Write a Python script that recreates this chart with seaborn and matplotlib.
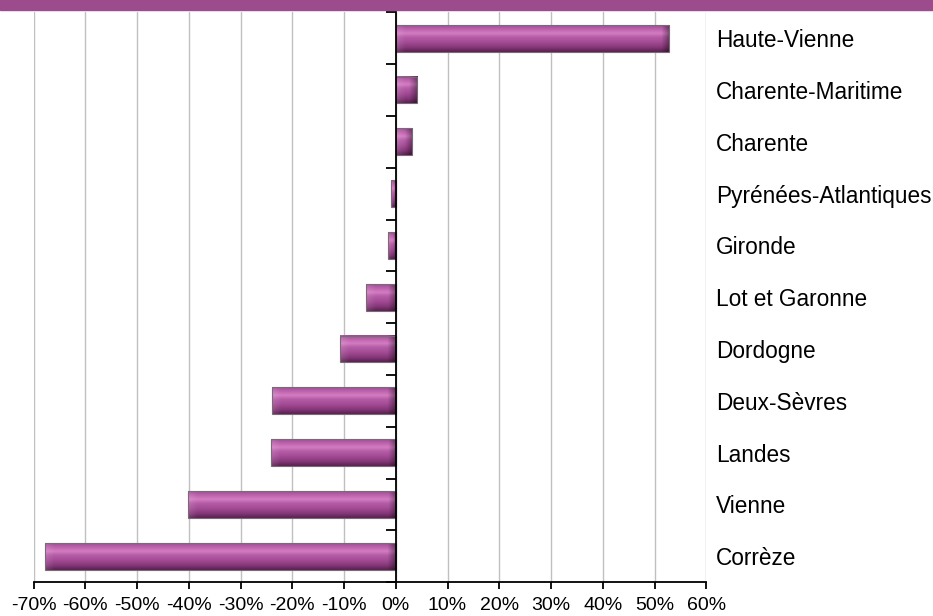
import numpy as np
import pandas as pd
import matplotlib
matplotlib.use('Agg')
import matplotlib.pyplot as plt
import matplotlib.colors as mcolors
import seaborn as sns

# Données : évolution par département (%)
departements = ['Haute-Vienne', 'Charente-Maritime', 'Charente', 'Pyrénées-Atlantiques',
                'Gironde', 'Lot et Garonne', 'Dordogne', 'Deux-Sèvres', 'Landes',
                'Vienne', 'Corrèze']
evolution = [52.8, 4.1, 3.1, -0.9, -1.5, -5.8, -10.8, -23.9, -24.2, -40.2, -67.8]
xticks = list(range(-70, 61, 10))

df = pd.DataFrame({'departement': departements, 'evolution': evolution})

sns.set_theme(style='white')
plt.rcParams['font.family'] = ['Liberation Sans', 'DejaVu Sans']

fig = plt.figure(figsize=(9.33, 6.16), dpi=100)
ax = fig.add_axes([0.036, 0.055, 0.721, 0.925])

sns.barplot(data=df, x='evolution', y='departement', orient='h', width=0.52,
            color='#a8519a', ax=ax, zorder=3)

ax.set_xlim(-70, 60)
ax.set_ylim(len(departements) - 0.5, -0.5)
ax.set_xticks(xticks)
ax.set_xticklabels([f'{t}%' for t in xticks], fontsize=14)
ax.set_xlabel('')
ax.set_ylabel('')

# grille verticale
ax.grid(axis='x', color='#c0c0c0', linewidth=1, zorder=0)
ax.grid(axis='y', visible=False)

# axe vertical placé à 0, graduations entre catégories
for side in ['top', 'right']:
    ax.spines[side].set_visible(False)
ax.spines['left'].set_position(('data', 0))
ax.spines['left'].set_color('black')
ax.spines['left'].set_linewidth(1.3)
ax.spines['left'].set_zorder(5)
ax.spines['bottom'].set_color('black')
ax.spines['bottom'].set_linewidth(1.3)

ax.set_yticks(range(len(departements)))
ax.set_yticklabels(departements, fontsize=16.3)
ax.set_yticks(np.arange(-0.5, len(departements), 1), minor=True)
ax.tick_params(axis='y', which='major', left=False, right=False,
               labelleft=False, labelright=True, pad=0.8, labelcolor='black')
ax.tick_params(axis='y', which='minor', left=True, direction='out', length=7,
               width=1.3, color='black')
ax.tick_params(axis='x', which='major', bottom=True, direction='out', length=5,
               width=1.3, color='black', pad=6, labelcolor='black')

# effet biseauté des barres
profil = [(0.0, '#9a5090'), (0.1, '#b65ca8'), (0.3, '#d47cc2'), (0.45, '#b45ca6'),
          (0.65, '#a24a94'), (0.85, '#823676'), (1.0, '#5a2050')]
cmap = mcolors.LinearSegmentedColormap.from_list('biseau', profil)

fig.canvas.draw()
px_per_unit = ax.transData.transform((1, 0))[0] - ax.transData.transform((0, 0))[0]
for patch in ax.patches:
    x0, y0 = patch.get_x(), patch.get_y()
    w, h = patch.get_width(), patch.get_height()
    xa, xb = min(x0, x0 + w), max(x0, x0 + w)
    npx = max(int(abs(w) * px_per_unit), 2)
    v = np.linspace(0, 1, 40)[:, None]
    rgb = cmap(np.repeat(v, npx, axis=1))[..., :3]
    bev = min(9, npx // 2)
    col = np.arange(npx)
    # facette droite plus sombre, facette gauche un peu plus claire
    right = np.clip((col - (npx - bev)) / max(bev, 1), 0, 1)[None, :, None]
    left = np.clip((bev - col) / max(bev, 1), 0, 1)[None, :, None]
    rgb = rgb * (1 - 0.45 * right)
    rgb = rgb + (1 - rgb) * 0.12 * left
    ax.imshow(rgb, extent=(xa, xb, y0 + h, y0), aspect='auto', zorder=3,
              interpolation='bilinear')
    patch.set_facecolor('none')
    patch.set_edgecolor('#7a6a78')
    patch.set_linewidth(0.8)
    patch.set_zorder(4)

ax.set_xlim(-70, 60)
ax.set_ylim(len(departements) - 0.5, -0.5)

# bandeau violet en haut
fig.patches.append(plt.Rectangle((0, 0.984), 1, 0.016, transform=fig.transFigure,
                                 color='#9c4c8c', zorder=0))

fig.savefig('out.png', dpi=100)
